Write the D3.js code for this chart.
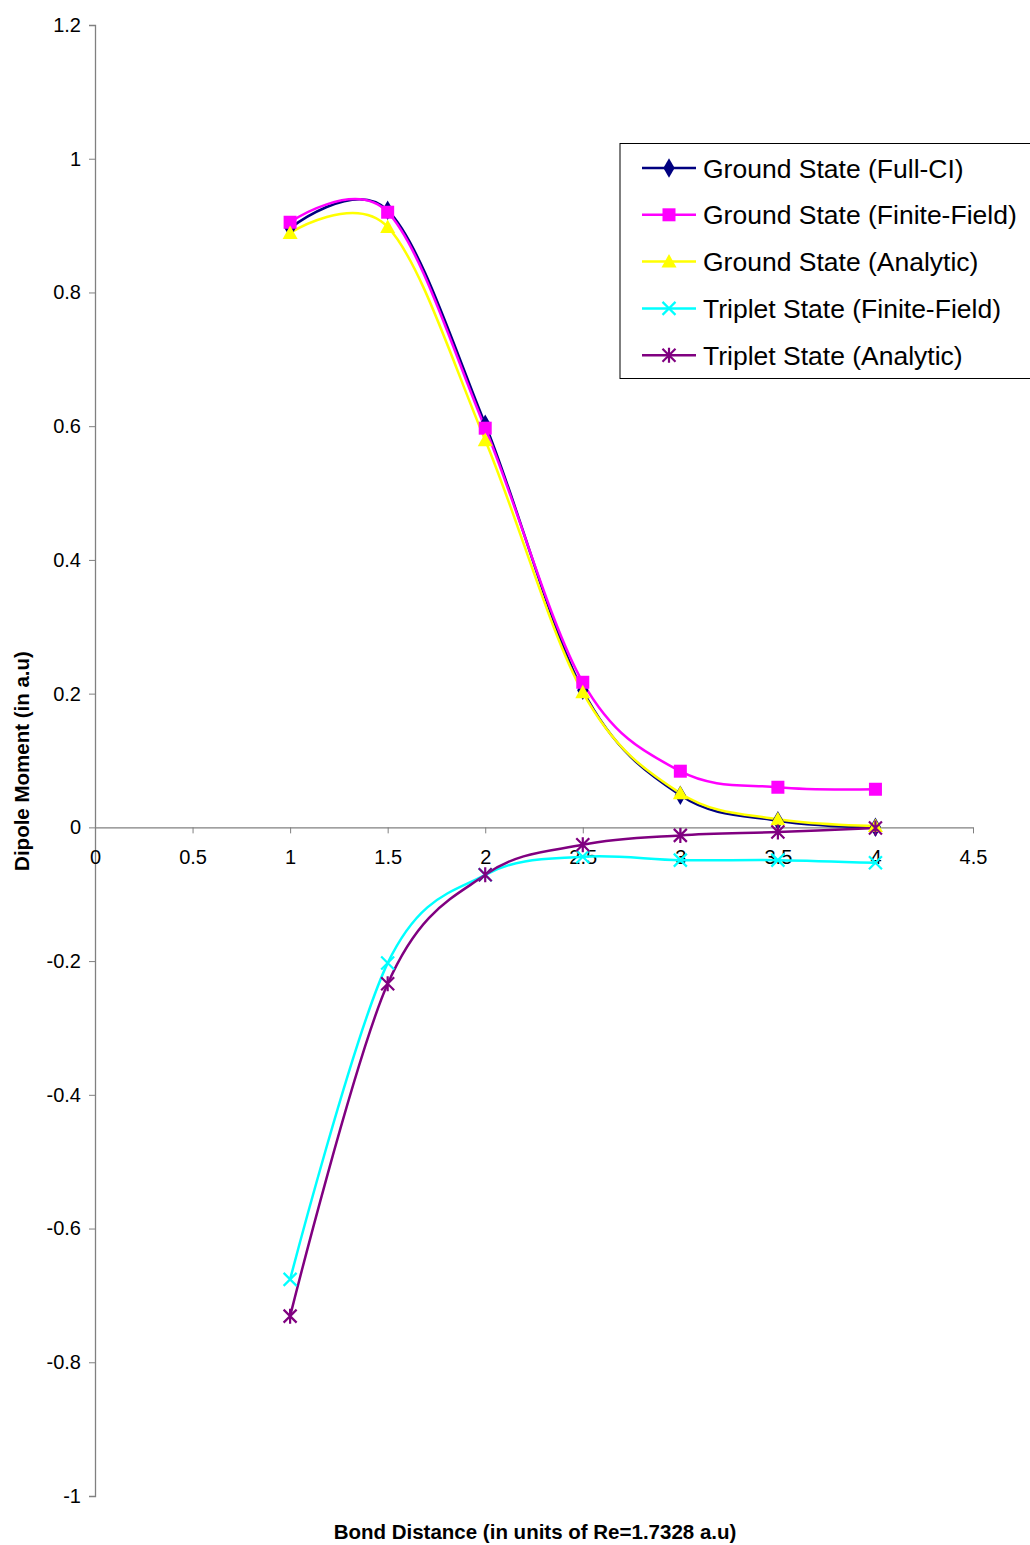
<!DOCTYPE html>
<html><head><meta charset="utf-8">
<script src="https://cdn.jsdelivr.net/npm/d3@7"></script>
<style>body{margin:0;background:#fff}svg{display:block;font-family:"Liberation Sans",Arial,sans-serif}</style>
</head><body><svg id="c" width="1030" height="1545"></svg>
<script>
const xValues = [1, 1.5, 2, 2.5, 3, 3.5, 4];
const groundFullCI = [0.896, 0.923, 0.603, 0.205, 0.048, 0.010, 0.000];
const groundFiniteField = [0.905, 0.920, 0.597, 0.217, 0.084, 0.060, 0.057];
const groundAnalytic = [0.889, 0.898, 0.579, 0.202, 0.051, 0.012, 0.002];
const tripletFiniteField = [-0.676, -0.203, -0.071, -0.044, -0.049, -0.049, -0.053];
const tripletAnalytic = [-0.731, -0.234, -0.071, -0.026, -0.012, -0.007, -0.001];
const seriesNames = ["Ground State (Full-CI)", "Ground State (Finite-Field)", "Ground State (Analytic)", "Triplet State (Finite-Field)", "Triplet State (Analytic)"];
const xTicks = [0, 0.5, 1, 1.5, 2, 2.5, 3, 3.5, 4, 4.5];
const yTicks = [1.2, 1, 0.8, 0.6, 0.4, 0.2, 0, -0.2, -0.4, -0.6, -0.8, -1];

const series = [
  {name: seriesNames[0], vals: groundFullCI, color: "#000080", marker: "diamond"},
  {name: seriesNames[1], vals: groundFiniteField, color: "#FF00FF", marker: "square"},
  {name: seriesNames[2], vals: groundAnalytic, color: "#FFFF00", marker: "triangle"},
  {name: seriesNames[3], vals: tripletFiniteField, color: "#00FFFF", marker: "x"},
  {name: seriesNames[4], vals: tripletAnalytic, color: "#800080", marker: "star"}
];

const fmt = d => String(d);
const svg = d3.select("#c");
const x = d3.scaleLinear().domain([0, 4.5]).range([95, 973]);
const y = d3.scaleLinear().domain([-1, 1.2]).range([1496, 25]);

// Y axis
const yAxis = svg.append("g").attr("transform", `translate(${x(0)},0)`)
  .call(d3.axisLeft(y).tickValues(yTicks).tickSize(6).tickPadding(8).tickFormat(fmt));
yAxis.select(".domain").attr("stroke", "#808080").attr("stroke-width", 1.3);
yAxis.selectAll(".tick line").attr("stroke", "#808080");
yAxis.selectAll("text").attr("font-size", 20).attr("fill", "#000").attr("font-family", "Liberation Sans, Arial, sans-serif");

// X axis
const xAxis = svg.append("g").attr("transform", `translate(0,${y(0)})`)
  .call(d3.axisBottom(x).tickValues(xTicks).tickSize(6).tickSizeOuter(0).tickPadding(16).tickFormat(fmt));
xAxis.select(".domain").attr("stroke", "#808080").attr("stroke-width", 1.3);
xAxis.selectAll(".tick line").attr("stroke", "#808080");
xAxis.selectAll("text").attr("font-size", 20).attr("fill", "#000").attr("font-family", "Liberation Sans, Arial, sans-serif");

// Lines
const line = d3.line().x((d, i) => x(xValues[i])).y(d => y(d)).curve(d3.curveCardinal.tension(0));
series.forEach(s => {
  svg.append("path").attr("d", line(s.vals)).attr("fill", "none").attr("stroke", s.color).attr("stroke-width", 2.5);
});

function drawMarker(g, type, color, cx, cy) {
  if (type === "diamond") {
    g.append("path").attr("d", d3.symbol(d3.symbolDiamond, 110)()).attr("transform", `translate(${cx},${cy})`).attr("fill", color);
  } else if (type === "square") {
    g.append("rect").attr("x", cx - 6.5).attr("y", cy - 6.5).attr("width", 13).attr("height", 13).attr("fill", color);
  } else if (type === "triangle") {
    g.append("path").attr("d", `M${cx},${cy - 7.5}L${cx + 7.5},${cy + 6}L${cx - 7.5},${cy + 6}Z`).attr("fill", color);
  } else if (type === "x") {
    const r = 6.5;
    g.append("path").attr("d", `M${cx - r},${cy - r}L${cx + r},${cy + r}M${cx - r},${cy + r}L${cx + r},${cy - r}`).attr("stroke", color).attr("stroke-width", 2.2);
  } else if (type === "star") {
    const r = 6.5;
    g.append("path").attr("d", `M${cx - r},${cy - r}L${cx + r},${cy + r}M${cx - r},${cy + r}L${cx + r},${cy - r}M${cx},${cy - r - 1}L${cx},${cy + r + 1}`).attr("stroke", color).attr("stroke-width", 2.2);
  }
}

series.forEach(s => {
  const g = svg.append("g");
  s.vals.forEach((v, i) => drawMarker(g, s.marker, s.color, x(xValues[i]), y(v)));
});

// Axis titles
svg.append("text").attr("x", 535).attr("y", 1539).attr("text-anchor", "middle")
  .attr("font-size", 20.5).attr("font-weight", "bold").text("Bond Distance (in units of Re=1.7328 a.u)");
svg.append("text").attr("transform", "translate(29,761) rotate(-90)").attr("text-anchor", "middle")
  .attr("font-size", 20.5).attr("font-weight", "bold").text("Dipole Moment (in a.u)");

// Legend
const lg = svg.append("g");
lg.append("rect").attr("x", 620).attr("y", 143.5).attr("width", 420).attr("height", 235).attr("fill", "#fff").attr("stroke", "#000").attr("stroke-width", 1);
series.forEach((s, i) => {
  const ly = 168 + i * 46.8;
  lg.append("line").attr("x1", 642).attr("x2", 696).attr("y1", ly).attr("y2", ly).attr("stroke", s.color).attr("stroke-width", 2.5);
  drawMarker(lg, s.marker, s.color, 669, ly);
  lg.append("text").attr("x", 703).attr("y", ly + 9.5).attr("font-size", 26.5).text(s.name);
});
</script></body></html>
